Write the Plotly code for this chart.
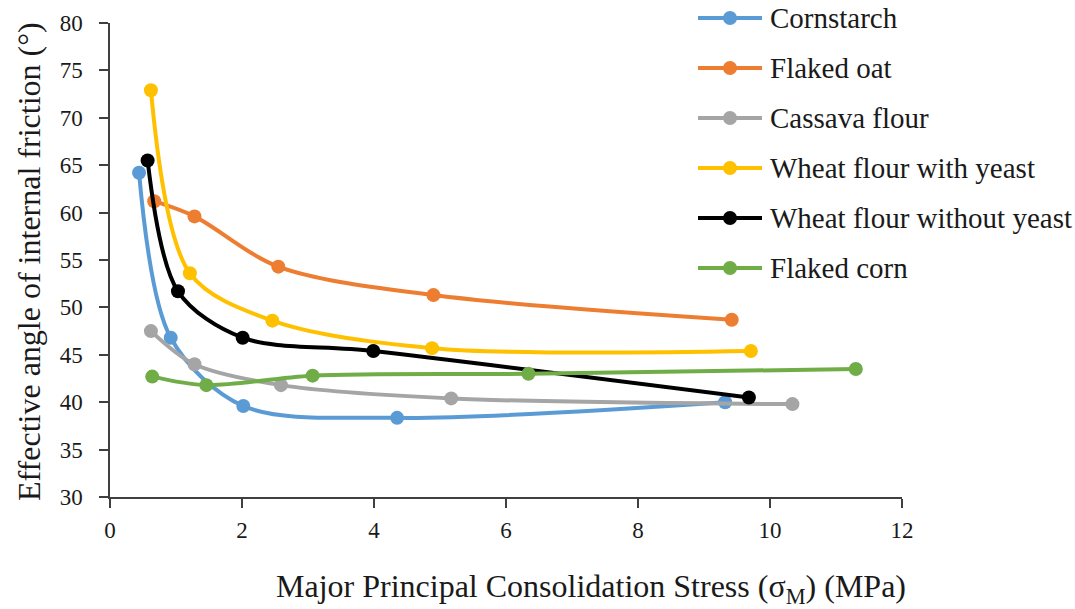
import plotly.graph_objects as go

# Major principal consolidation stress (MPa) and effective angle of internal friction (deg)
cornstarch_x = [0.44, 0.92, 2.02, 4.35, 9.32]
cornstarch_y = [64.2, 46.8, 39.6, 38.35, 40.0]

flaked_oat_x = [0.67, 1.28, 2.55, 4.90, 9.42]
flaked_oat_y = [61.2, 59.6, 54.3, 51.3, 48.7]

cassava_x = [0.62, 1.28, 2.59, 5.17, 10.34]
cassava_y = [47.5, 44.0, 41.8, 40.4, 39.8]

wheat_yeast_x = [0.62, 1.21, 2.46, 4.88, 9.71]
wheat_yeast_y = [72.9, 53.6, 48.6, 45.7, 45.4]

wheat_no_yeast_x = [0.57, 1.03, 2.01, 3.99, 9.68]
wheat_no_yeast_y = [65.5, 51.7, 46.8, 45.4, 40.5]

flaked_corn_x = [0.64, 1.46, 3.07, 6.34, 11.30]
flaked_corn_y = [42.7, 41.8, 42.8, 43.0, 43.5]

series_names = ["Cornstarch", "Flaked oat", "Cassava flour",
                "Wheat flour with yeast", "Wheat flour without yeast", "Flaked corn"]
series_colors = ["#5B9BD5", "#ED7D31", "#A5A5A5", "#FFC000", "#000000", "#70AD47"]
series_data = [
    (cornstarch_x, cornstarch_y),
    (flaked_oat_x, flaked_oat_y),
    (cassava_x, cassava_y),
    (wheat_yeast_x, wheat_yeast_y),
    (wheat_no_yeast_x, wheat_no_yeast_y),
    (flaked_corn_x, flaked_corn_y),
]

x_ticks = [0, 2, 4, 6, 8, 10, 12]
y_ticks = [30, 35, 40, 45, 50, 55, 60, 65, 70, 75, 80]

FONT = "Liberation Serif"
TEXT_COLOR = "#1a1a1a"
W, H = 1075, 609
L, R, T, B = 110, 173, 23, 112
PW, PH = W - L - R, H - T - B


def px_to_paper(px, py):
    return (px - L) / PW, (H - B - py) / PH


fig = go.Figure()
for name, color, (xs, ys) in zip(series_names, series_colors, series_data):
    fig.add_trace(go.Scatter(
        x=xs, y=ys, name=name, mode="lines+markers",
        line=dict(color=color, width=4, shape="spline", smoothing=0.9),
        marker=dict(color=color, size=14),
        showlegend=False,
    ))

# Legend drawn as line + dot + label rows on the right
shapes, annotations = [], []
for i, (name, color) in enumerate(zip(series_names, series_colors)):
    row_y = 18 + 50 * i
    x0, y0 = px_to_paper(698, row_y)
    x1, _ = px_to_paper(762, row_y)
    xm, _ = px_to_paper(730, row_y)
    xt, _ = px_to_paper(768, row_y)
    shapes.append(dict(type="line", xref="paper", yref="paper",
                       x0=x0, x1=x1, y0=y0, y1=y0,
                       line=dict(color=color, width=4)))
    shapes.append(dict(type="circle", xref="paper", yref="paper",
                       xsizemode="pixel", ysizemode="pixel",
                       xanchor=xm, yanchor=y0,
                       x0=-7, x1=7, y0=-7, y1=7,
                       fillcolor=color, line=dict(color=color, width=0)))
    annotations.append(dict(text=name, xref="paper", yref="paper",
                            x=xt, y=y0, xanchor="left", yanchor="middle",
                            showarrow=False,
                            font=dict(family=FONT, size=29, color=TEXT_COLOR)))

# Axis titles
tx, ty = px_to_paper(591, 588)
annotations.append(dict(text="Major Principal Consolidation Stress (σ<sub>M</sub>) (MPa)",
                        xref="paper", yref="paper", x=tx, y=ty,
                        xanchor="center", yanchor="middle", showarrow=False,
                        font=dict(family=FONT, size=32, color=TEXT_COLOR)))
tx, ty = px_to_paper(29, 262)
annotations.append(dict(text="Effective angle of internal friction (°)",
                        xref="paper", yref="paper", x=tx, y=ty, textangle=-90,
                        xanchor="center", yanchor="middle", showarrow=False,
                        font=dict(family=FONT, size=32, color=TEXT_COLOR)))

axis_common = dict(
    showgrid=False, zeroline=False, showline=True,
    linecolor="#404040", linewidth=1.5,
    ticks="outside", ticklen=9, tickwidth=1.5, tickcolor="#404040",
    tickfont=dict(family=FONT, size=23, color=TEXT_COLOR),
)

fig.update_layout(
    width=W, height=H,
    font=dict(family=FONT, color=TEXT_COLOR),
    margin=dict(l=L, r=R, t=T, b=B, autoexpand=False),
    paper_bgcolor="white", plot_bgcolor="white",
    xaxis=dict(range=[0, 12], tickvals=x_ticks, ticklabelstandoff=3, **axis_common),
    yaxis=dict(range=[30, 80], tickvals=y_ticks, ticklabelstandoff=12, **axis_common),
    shapes=shapes, annotations=annotations,
    showlegend=False,
)

fig.write_html("out.html")
